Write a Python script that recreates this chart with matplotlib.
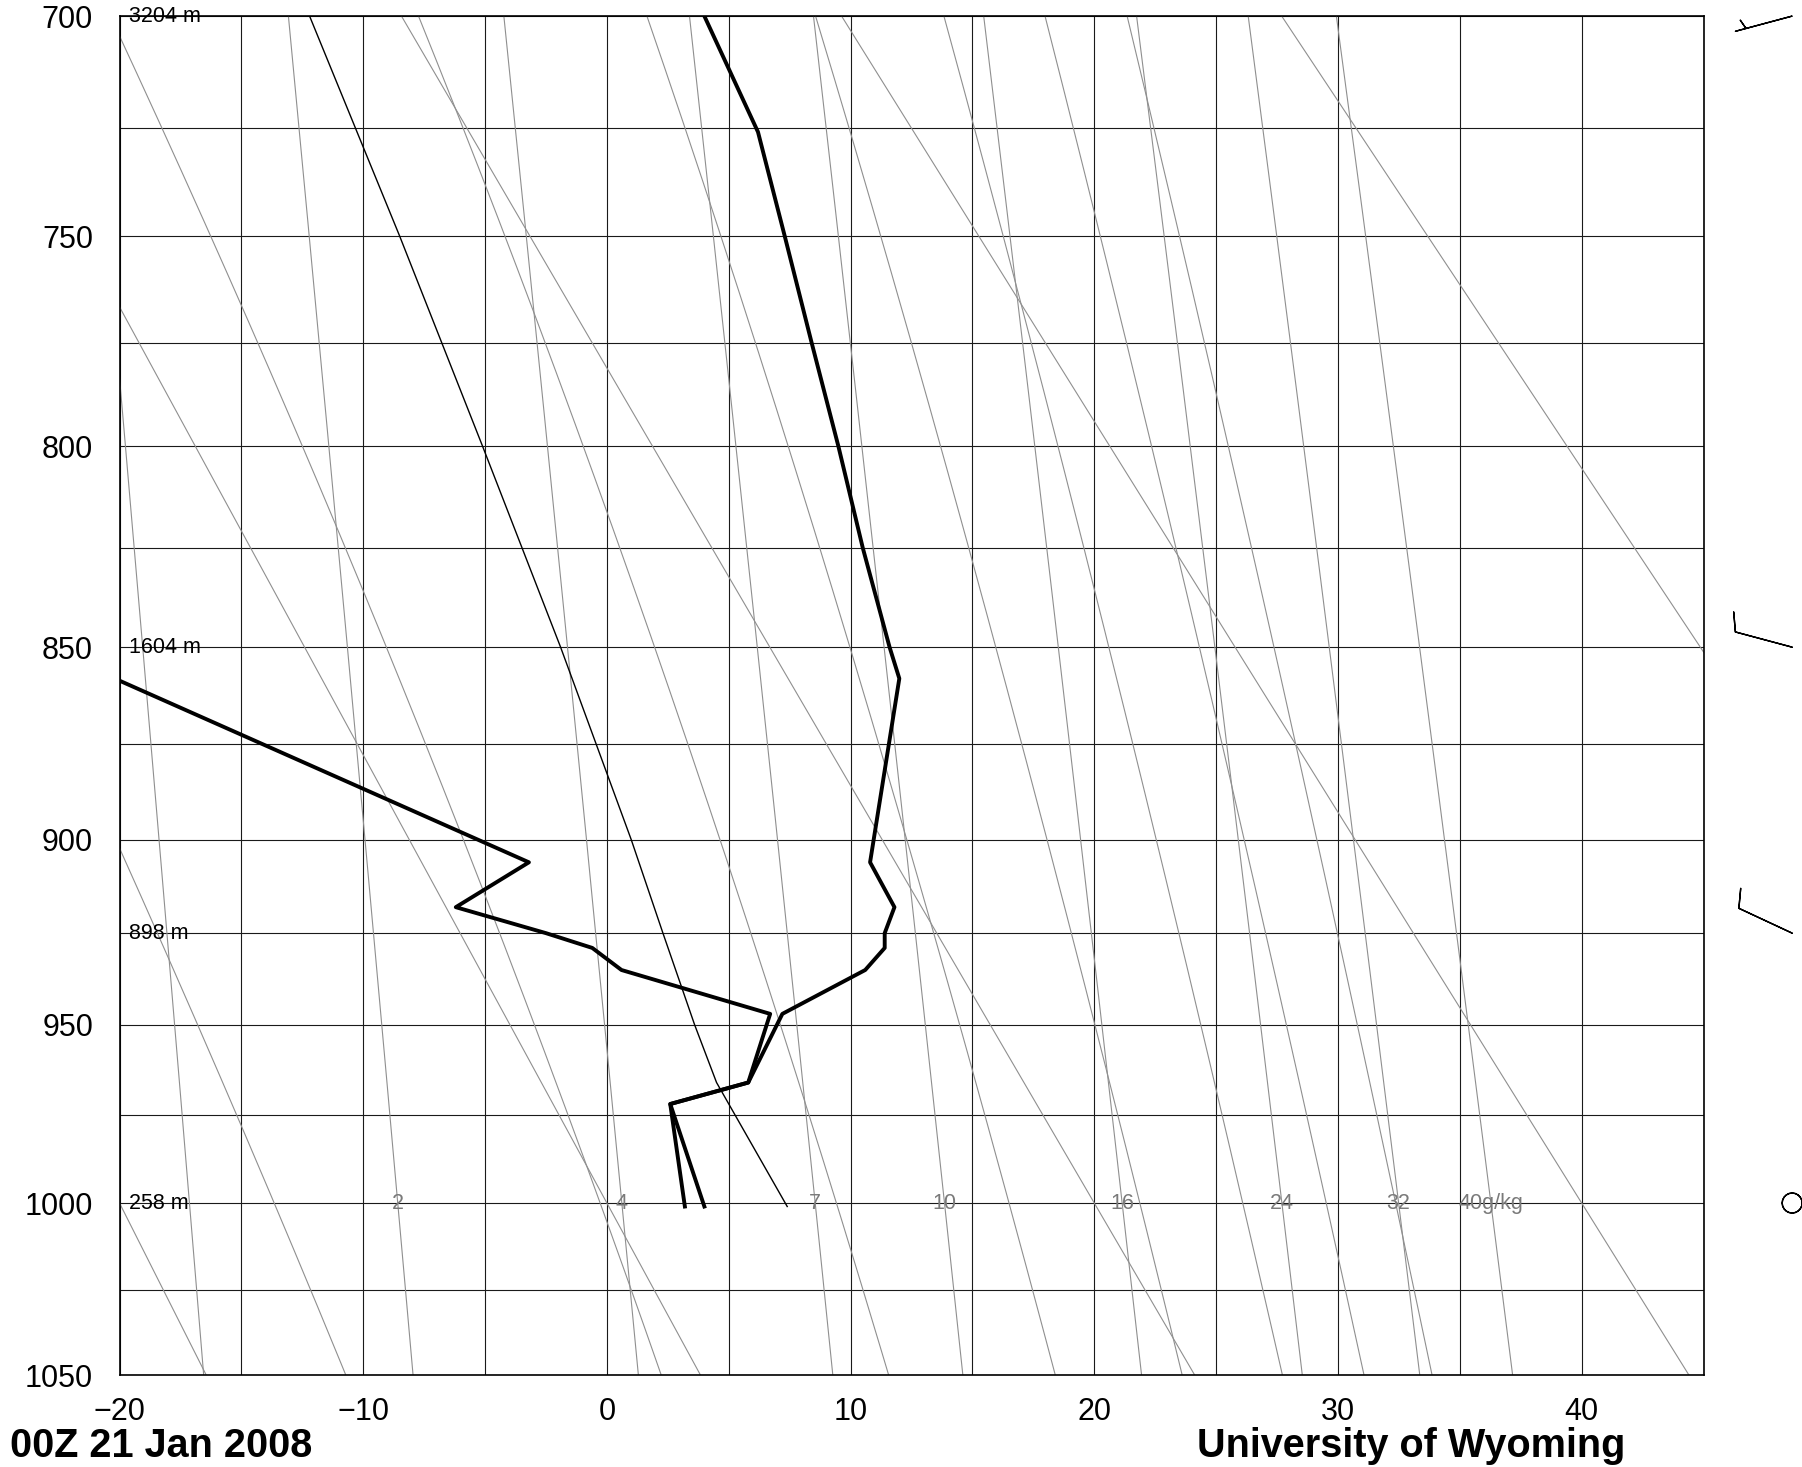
"""Stuve diagram of a sounding, 00Z 21 Jan 2008."""

import numpy as np
import matplotlib

matplotlib.use("Agg")
import matplotlib.pyplot as plt

KAPPA = 0.286

pressure = [1001, 972, 966, 947, 935, 929, 925, 918, 906, 858, 850, 825, 800, 775, 750, 726, 700]
temperature = [4.0, 2.6, 5.8, 7.2, 10.6, 11.4, 11.4, 11.8, 10.8, 12.0, 11.6, 10.5, 9.5, 8.4, 7.3, 6.2, 4.0]
dewpoint = [3.2, 2.6, 5.8, 6.7, 0.6, -0.6, -2.5, -6.2, -3.2, -20.2,
            np.nan, np.nan, np.nan, np.nan, np.nan, np.nan, np.nan]

# lifted parcel (thin line)
parcel_pressure = [1001, 966, 950, 925, 900, 850, 800, 750, 700]
parcel_temperature = [7.4, 4.5, 3.6, 2.3, 1.0, -1.9, -5.1, -8.5, -12.2]

# winds (knots, degrees)
wind_pressure = [1000, 925, 850, 700]
wind_speed = [0, 10, 10, 5]
wind_direction = [0, 295, 285, 255]

# geopotential heights of mandatory levels
height_pressure = [700, 850, 925, 1000]
height_labels = ["3204 m", "1604 m", "898 m", "258 m"]

# background reference lines
dry_adiabats = [-20, 0, 20, 40, 60]  # potential temperature, degC
moist_adiabats = [-10, 10, 30, 50, 70, 90, 110, 130]  # equivalent pot. temp, degC
mixing_ratios = [1, 2, 4, 7, 10, 16, 24, 32, 40]  # g/kg
mixing_labels = ["", "2", "4", "7", "10", "16", "24", "32", "40g/kg"]


def sat_vapor(t_c):
    return 6.112 * np.exp(17.67 * t_c / (t_c + 243.5))


def dewpoint_from_w(w, p):
    e = w * p / (622.0 + w)
    lg = np.log(e / 6.112)
    return 243.5 * lg / (17.67 - lg)


def theta_e(t_k, p):
    es = sat_vapor(t_k - 273.15)
    r = 622.0 * es / (p - es)
    theta = t_k * (1000.0 / p) ** (0.2854 * (1 - 0.00028 * r))
    return theta * np.exp((3.376 / t_k - 0.00254) * r * (1 + 0.00081 * r))


def moist_temperature(the_k, p):
    lo = np.full_like(p, 200.0)
    hi = np.full_like(p, 330.0)
    for _ in range(60):
        mid = 0.5 * (lo + hi)
        warm = theta_e(mid, p) > the_k
        hi = np.where(warm, mid, hi)
        lo = np.where(warm, lo, mid)
    return 0.5 * (lo + hi) - 273.15


def fwd(p):
    return np.power(np.clip(p, 1e-6, None), KAPPA)


def inv(v):
    return np.power(np.clip(v, 1e-6, None), 1.0 / KAPPA)


plt.rcParams["font.family"] = ["Liberation Sans", "DejaVu Sans"]

fig = plt.figure(figsize=(18.02, 14.67), dpi=100)
ax = fig.add_axes([0.06632, 0.06271, 0.87902, 0.92632])
ax.set_yscale("function", functions=(fwd, inv))
ax.set_xlim(-20, 45)
ax.set_ylim(1050, 700)

p_line = np.linspace(700, 1050, 300)
line_kw = dict(color="#8f8f8f", lw=0.8, zorder=2)
for theta in dry_adiabats:
    ax.plot((theta + 273.15) * (p_line / 1000.0) ** KAPPA - 273.15, p_line, **line_kw)
for the in moist_adiabats:
    ax.plot(moist_temperature(the + 273.15, p_line), p_line, **line_kw)
for w in mixing_ratios:
    ax.plot(dewpoint_from_w(w, p_line), p_line, **line_kw)
for w, label in zip(mixing_ratios, mixing_labels):
    if label:
        ax.text(dewpoint_from_w(w, 1000.0), 1000, label, ha="center", va="center",
                fontsize=15.5, color="#7a7a7a", zorder=4)

ax.plot(parcel_temperature, parcel_pressure, color="black", lw=1.0, zorder=3)
ax.plot(temperature, pressure, color="black", lw=2.8, zorder=5)
ax.plot(dewpoint, pressure, color="black", lw=2.8, zorder=5)

for p, label in zip(height_pressure, height_labels):
    ax.text(-19.63, p, label, ha="left", va="center", fontsize=15.5, zorder=6)

ax.set_xticks(range(-20, 41, 10))
ax.set_xticks(range(-20, 46, 5), minor=True)
ax.set_yticks(range(700, 1051, 50))
ax.set_yticks(range(700, 1051, 25), minor=True)
ax.yaxis.set_major_formatter(matplotlib.ticker.FormatStrFormatter("%d"))
ax.yaxis.set_minor_formatter(matplotlib.ticker.NullFormatter())
ax.grid(which="both", color="#1a1a1a", lw=0.8, zorder=1)
ax.set_axisbelow(True)
ax.tick_params(which="both", length=0)
ax.tick_params(axis="x", pad=16, labelsize=22)
ax.tick_params(axis="y", pad=19, labelsize=22)
for spine in ax.spines.values():
    spine.set_linewidth(1.2)

# wind barbs to the right of the diagram
bx = fig.add_axes([0.94534, 0.06271, 0.05466, 0.92632])
bx.set_yscale("function", functions=(fwd, inv))
bx.set_xlim(0, 1)
bx.set_ylim(1050, 700)
bx.axis("off")
spd = np.array(wind_speed, dtype=float)
drc = np.radians(wind_direction)
bx.barbs(np.full(len(spd), 0.9), wind_pressure, -spd * np.sin(drc), -spd * np.cos(drc),
         length=9.2, lw=1.0, clip_on=False,
         sizes=dict(emptybarb=0.17, height=0.32, width=0.23))

fig.text(0.0055, 0.0068, "00Z 21 Jan 2008", fontsize=28.5, fontweight="bold",
         ha="left", va="baseline")
fig.text(0.7829, 0.0068, "University of Wyoming", fontsize=28.5, fontweight="bold",
         ha="center", va="baseline")

fig.savefig("out.png", dpi=100)
